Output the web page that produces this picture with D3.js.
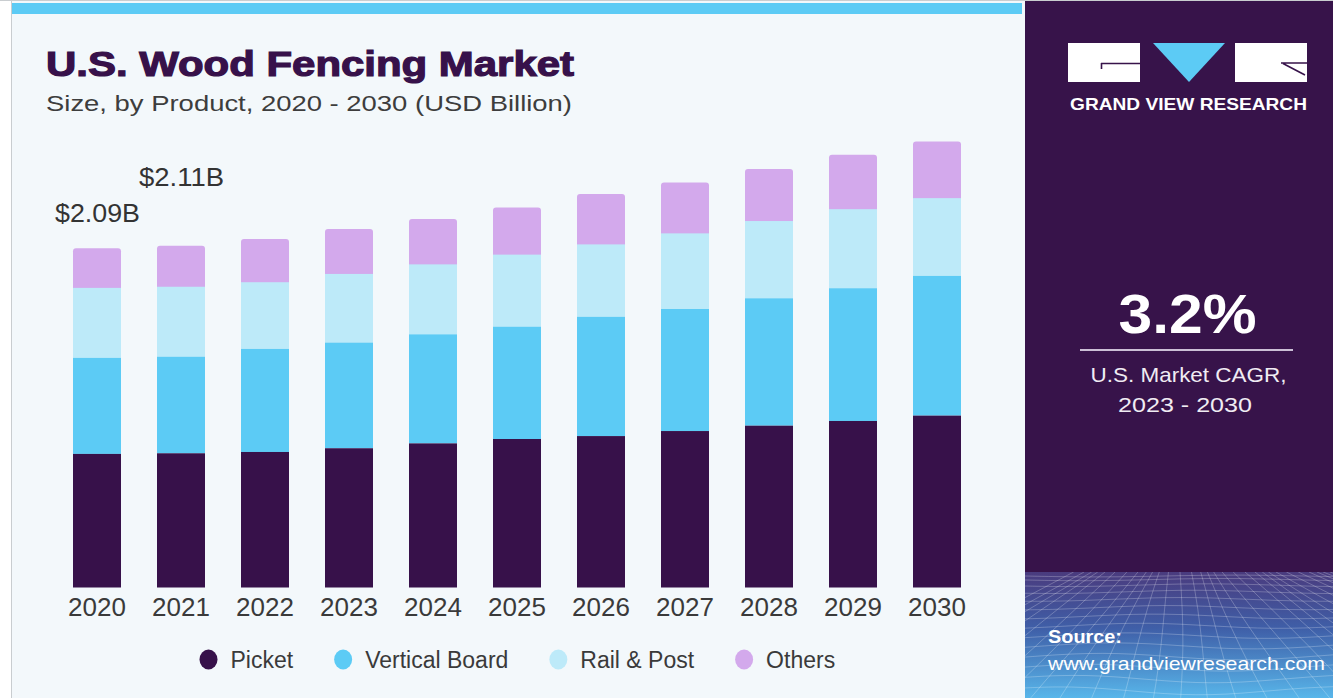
<!DOCTYPE html>
<html>
<head>
<meta charset="utf-8">
<script src="https://cdn.jsdelivr.net/npm/d3@7/dist/d3.min.js"></script>
<style>
  html, body { margin: 0; padding: 0; background: #ffffff; }
  svg { display: block; }
</style>
</head>
<body>
<svg id="chart" width="1333" height="698"></svg>
<script>
// ---------- DATA ----------
const years = ["2020","2021","2022","2023","2024","2025","2026","2027","2028","2029","2030"];
const picket        = [0.823, 0.827, 0.835, 0.858, 0.888, 0.915, 0.933, 0.964, 0.997, 1.026, 1.059];
const verticalBoard = [0.592, 0.595, 0.635, 0.651, 0.672, 0.692, 0.735, 0.752, 0.785, 0.818, 0.861];
const railPost      = [0.431, 0.431, 0.411, 0.423, 0.431, 0.444, 0.446, 0.466, 0.476, 0.487, 0.479];
const others        = [0.245, 0.253, 0.267, 0.277, 0.279, 0.290, 0.310, 0.314, 0.320, 0.335, 0.349];
const seriesNames   = ["Picket", "Vertical Board", "Rail & Post", "Others"];
const seriesColors  = ["#37114a", "#5ccbf5", "#bdeaf9", "#d3a9ec"];
const valueLabels   = [{year: "2020", text: "$2.09B", lift: 26}, {year: "2021", text: "$2.11B", lift: 60}];
const cagrValue = "3.2%";
const cagrLabel1 = "U.S. Market CAGR,";
const cagrLabel2 = "2023 - 2030";

// ---------- SETUP ----------
const svg = d3.select("#chart");
const W = 1333, H = 698;
const FONT = "'Liberation Sans', Arial, sans-serif";

// left panel background
svg.append("rect").attr("x", 12).attr("y", 0).attr("width", 1013).attr("height", H).attr("fill", "#f3f8fb");
svg.append("line").attr("x1", 11.5).attr("x2", 11.5).attr("y1", 0).attr("y2", H).attr("stroke", "#c9cdd0").attr("stroke-width", 1);
svg.append("line").attr("x1", 0).attr("x2", W).attr("y1", 0.5).attr("y2", 0.5).attr("stroke", "#c9cdd0").attr("stroke-width", 1);
// top cyan band
svg.append("rect").attr("x", 12).attr("y", 3).attr("width", 1010).attr("height", 11).attr("fill", "#5ccbf5");

// title
svg.append("text").attr("x", 46).attr("y", 76)
  .attr("font-family", FONT).attr("font-weight", "bold").attr("font-size", 35)
  .attr("fill", "#37114a").attr("stroke", "#37114a").attr("stroke-width", 1.2)
  .attr("textLength", 528).attr("lengthAdjust", "spacingAndGlyphs")
  .text("U.S. Wood Fencing Market");
svg.append("text").attr("x", 46).attr("y", 111)
  .attr("font-family", FONT).attr("font-size", 22.5).attr("fill", "#3d3d3d")
  .attr("textLength", 526).attr("lengthAdjust", "spacingAndGlyphs")
  .text("Size, by Product, 2020 - 2030 (USD Billion)");

// ---------- SCALES ----------
const x = d3.scaleBand().domain(years).range([73, 961]).paddingInner(0.4286).paddingOuter(0);
const y0 = 587.5, pxPerB = 162.3;
const y = d3.scaleLinear().domain([0, 3]).range([y0, y0 - 3 * pxPerB]);
const color = d3.scaleOrdinal().domain(seriesNames).range(seriesColors);

const table = years.map((yr, i) => ({
  year: yr,
  "Picket": picket[i],
  "Vertical Board": verticalBoard[i],
  "Rail & Post": railPost[i],
  "Others": others[i]
}));
const stacked = d3.stack().keys(seriesNames)(table);

// draw layers top-first so rounded tops of Others only show on top
const gBars = svg.append("g");
stacked.slice().reverse().forEach(layer => {
  const isTop = layer.key === "Others";
  gBars.append("g").attr("fill", color(layer.key))
    .selectAll("rect").data(layer).join("rect")
    .attr("x", d => x(d.data.year))
    .attr("width", x.bandwidth())
    .attr("y", d => y(d[1]))
    .attr("height", d => y(d[0]) - y(d[1]) + (isTop ? 4 : 0))
    .attr("rx", isTop ? 3 : 0);
});

// x axis labels
const xAxis = d3.axisBottom(x).tickSize(0).tickPadding(0);
const gx = svg.append("g").attr("transform", `translate(0, ${y0})`).call(xAxis);
gx.select(".domain").remove();
gx.selectAll("text")
  .attr("font-family", FONT).attr("font-size", 26).attr("fill", "#3a3a3a")
  .attr("dy", null).attr("y", 28.5);

// value labels
svg.append("g").selectAll("text").data(valueLabels).join("text")
  .attr("x", d => x(d.year) + x.bandwidth() / 2 + 0.5)
  .attr("y", d => {
    const idx = years.indexOf(d.year);
    return y(picket[idx] + verticalBoard[idx] + railPost[idx] + others[idx]) - d.lift;
  })
  .attr("text-anchor", "middle")
  .attr("font-family", FONT).attr("font-size", 25).attr("fill", "#333333")
  .attr("textLength", 85).attr("lengthAdjust", "spacingAndGlyphs")
  .text(d => d.text);

// legend
const legend = svg.append("g");
let lx = 208.5;
seriesNames.forEach((name, i) => {
  legend.append("ellipse").attr("cx", lx).attr("cy", 659.5).attr("rx", 9).attr("ry", 10).attr("fill", color(name));
  const t = legend.append("text").attr("x", lx + 22).attr("y", 667.5)
    .attr("font-family", FONT).attr("font-size", 23).attr("fill", "#3a3a3a").text(name);
  const w = t.node().getComputedTextLength();
  lx = lx + 22 + w + 50;
});

// ---------- RIGHT PANEL ----------
const rp = svg.append("g");
rp.append("rect").attr("x", 1025).attr("y", 1).attr("width", W - 1025).attr("height", H - 1).attr("fill", "#37134a");
const defs = svg.append("defs");
const grad = defs.append("linearGradient").attr("id", "gb").attr("x1", 0).attr("y1", 0).attr("x2", 0).attr("y2", 1);
grad.append("stop").attr("offset", 0).attr("stop-color", "#4a3b7e");
grad.append("stop").attr("offset", 0.45).attr("stop-color", "#3f5fa8");
grad.append("stop").attr("offset", 1).attr("stop-color", "#58b6ea");
rp.append("rect").attr("x", 1025).attr("y", 572).attr("width", W - 1025).attr("height", H - 572).attr("fill", "url(#gb)");
// decorative perspective grid
const clip = defs.append("clipPath").attr("id", "gclip");
clip.append("rect").attr("x", 1025).attr("y", 572).attr("width", W - 1025).attr("height", H - 572);
const grid = rp.append("g").attr("clip-path", "url(#gclip)").attr("stroke", "#ffffff").attr("fill", "none")
  .attr("stroke-opacity", 0.24).attr("stroke-width", 1);
const line = d3.line().curve(d3.curveBasis);
d3.range(0, 22).forEach(k => {
  const yy = 576 + Math.pow(k, 1.35) * 3.6;
  grid.append("path").attr("d", line(d3.range(0, 11).map(j => {
    const xx = 1025 + j * 31;
    return [xx, yy + Math.sin(j * 0.7 + k * 0.3) * (1 + k * 0.25)];
  })));
});
d3.range(-12, 24).forEach(k => {
  const xTop = 1180 + k * 9;
  const xBot = 1180 + k * 30;
  grid.append("path").attr("d", line(d3.range(0, 8).map(j => {
    const t = j / 7;
    return [xTop + (xBot - xTop) * t + Math.sin(t * 3 + k) * 3, 572 + t * 130];
  })));
});

// logo
const logo = rp.append("g");
logo.append("rect").attr("x", 1068).attr("y", 43).attr("width", 72).attr("height", 39).attr("fill", "#ffffff");
logo.append("path").attr("d", "M1101,63.5 L1140,63.5 M1101.5,63 L1101.5,69").attr("stroke", "#37134a").attr("stroke-width", 1.6).attr("fill", "none");
logo.append("path").attr("d", "M1153,43 L1225,43 L1189,82 Z").attr("fill", "#5ccbf5");
logo.append("rect").attr("x", 1235).attr("y", 43).attr("width", 72).attr("height", 39).attr("fill", "#ffffff");
logo.append("path").attr("d", "M1281,63 L1307,63 M1283,63.5 L1305,75").attr("stroke", "#37134a").attr("stroke-width", 1.6).attr("fill", "none");
logo.append("text").attr("x", 1070).attr("y", 109.5)
  .attr("font-family", FONT).attr("font-weight", "bold").attr("font-size", 16.5).attr("fill", "#ffffff")
  .attr("textLength", 237).attr("lengthAdjust", "spacingAndGlyphs")
  .text("GRAND VIEW RESEARCH");

// CAGR
rp.append("text").attr("x", 1187.5).attr("y", 333).attr("text-anchor", "middle")
  .attr("font-family", FONT).attr("font-weight", "bold").attr("font-size", 55).attr("fill", "#ffffff")
  .attr("textLength", 138).attr("lengthAdjust", "spacingAndGlyphs")
  .text(cagrValue);
rp.append("line").attr("x1", 1080).attr("x2", 1293).attr("y1", 350).attr("y2", 350)
  .attr("stroke", "#cbbfd6").attr("stroke-width", 2);
rp.append("text").attr("x", 1188.5).attr("y", 382).attr("text-anchor", "middle")
  .attr("font-family", FONT).attr("font-size", 21).attr("fill", "#f0ecf3")
  .attr("textLength", 196).attr("lengthAdjust", "spacingAndGlyphs")
  .text(cagrLabel1);
rp.append("text").attr("x", 1185).attr("y", 412).attr("text-anchor", "middle")
  .attr("font-family", FONT).attr("font-size", 21).attr("fill", "#f0ecf3")
  .attr("textLength", 134).attr("lengthAdjust", "spacingAndGlyphs")
  .text(cagrLabel2);

// source
rp.append("text").attr("x", 1048).attr("y", 643)
  .attr("font-family", FONT).attr("font-weight", "bold").attr("font-size", 19).attr("fill", "#ffffff")
  .attr("textLength", 74).attr("lengthAdjust", "spacingAndGlyphs")
  .text("Source:");
rp.append("text").attr("x", 1048).attr("y", 670)
  .attr("font-family", FONT).attr("font-size", 19).attr("fill", "#ffffff")
  .attr("textLength", 277).attr("lengthAdjust", "spacingAndGlyphs")
  .text("www.grandviewresearch.com");
</script>
</body>
</html>
